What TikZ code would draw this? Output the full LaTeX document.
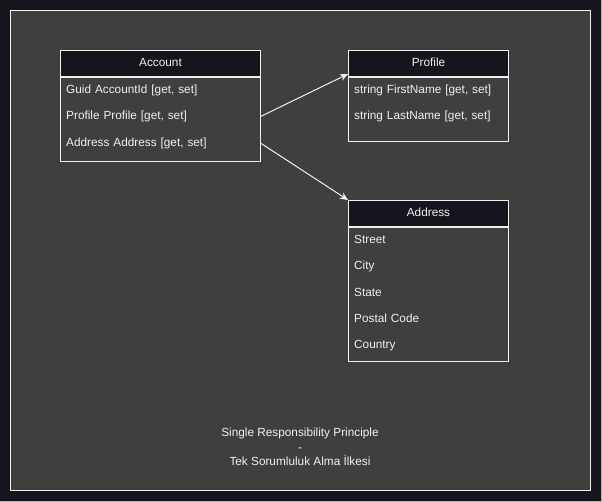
\documentclass[tikz,border=0pt]{standalone}
\usepackage{fontspec}
\setmainfont{Liberation Sans}
\usetikzlibrary{positioning,arrows.meta}
\definecolor{bgdark}{HTML}{18141D}
\definecolor{panel}{HTML}{3F3F3F}
\definecolor{ink}{HTML}{F0F0F0}
\tikzset{
  head/.style={draw=ink, fill=bgdark, text=ink, line width=1pt, minimum height=26pt, inner sep=0pt, text height=8.8pt, text depth=2.6pt, font=\fontsize{11.8}{14}\selectfont},
  body/.style={draw=ink, line width=1pt, inner sep=0pt},
  field/.style={text=ink, anchor=north west, minimum height=26pt, inner xsep=6pt, inner ysep=0pt, text height=8.8pt, text depth=2.6pt, align=left, font=\fontsize{11.8}{14}\selectfont},
  link/.style={draw=ink, line width=1pt, -{Stealth[length=8pt,width=7pt]}}
}
\begin{document}
\begin{tikzpicture}[x=1pt,y=-1pt]
\useasboundingbox (0,0) rectangle (602,502);
\path[fill=bgdark] (0,0) rectangle (602,502);
\draw[gray!60,line width=1pt] (601.5,0) -- (601.5,501.5) -- (0,501.5);
\draw[ink,fill=panel,line width=1pt] (10.5,10.5) rectangle (590.5,490.5);

% Account
\node[head, minimum width=200pt] (acc) at (160.5,63.5) {Account};
\node[body, minimum width=200pt, minimum height=84pt, below=0pt of acc] (accbody) {};
\node[field, text width=188pt] (acc1) at (acc.south west) {Guid AccountId [get, set]};
\node[field, text width=188pt, below=0pt of acc1] (acc2) {Profile Profile [get, set]};
\node[field, text width=188pt, below=0pt of acc2] (acc3) {Address Address [get, set]};

% Profile
\node[head, minimum width=160pt] (prof) at (428.5,63.5) {Profile};
\node[body, minimum width=160pt, minimum height=64pt, below=0pt of prof] (profbody) {};
\node[field, text width=148pt] (prof1) at (prof.south west) {string FirstName [get, set]};
\node[field, text width=148pt, below=0pt of prof1] (prof2) {string LastName [get, set]};

% Address
\node[head, minimum width=160pt] (addr) at (428.5,213.5) {Address};
\node[body, minimum width=160pt, minimum height=134pt, below=0pt of addr] (addrbody) {};
\node[field, text width=148pt] (addr1) at (addr.south west) {Street};
\node[field, text width=148pt, below=0pt of addr1] (addr2) {City};
\node[field, text width=148pt, below=0pt of addr2] (addr3) {State};
\node[field, text width=148pt, below=0pt of addr3] (addr4) {Postal Code};
\node[field, text width=148pt, below=0pt of addr4] (addr5) {Country};

\path[link] (acc2.east) -- ([yshift=3pt]prof.south west);
\path[link] (acc3.east) -- (addr.north west);

\node[text=ink, align=center, font=\fontsize{11.8}{14.5}\selectfont] (title) at (300,447) {Single Responsibility Principle\\-\\Tek Sorumluluk Alma İlkesi};
\end{tikzpicture}
\end{document}
